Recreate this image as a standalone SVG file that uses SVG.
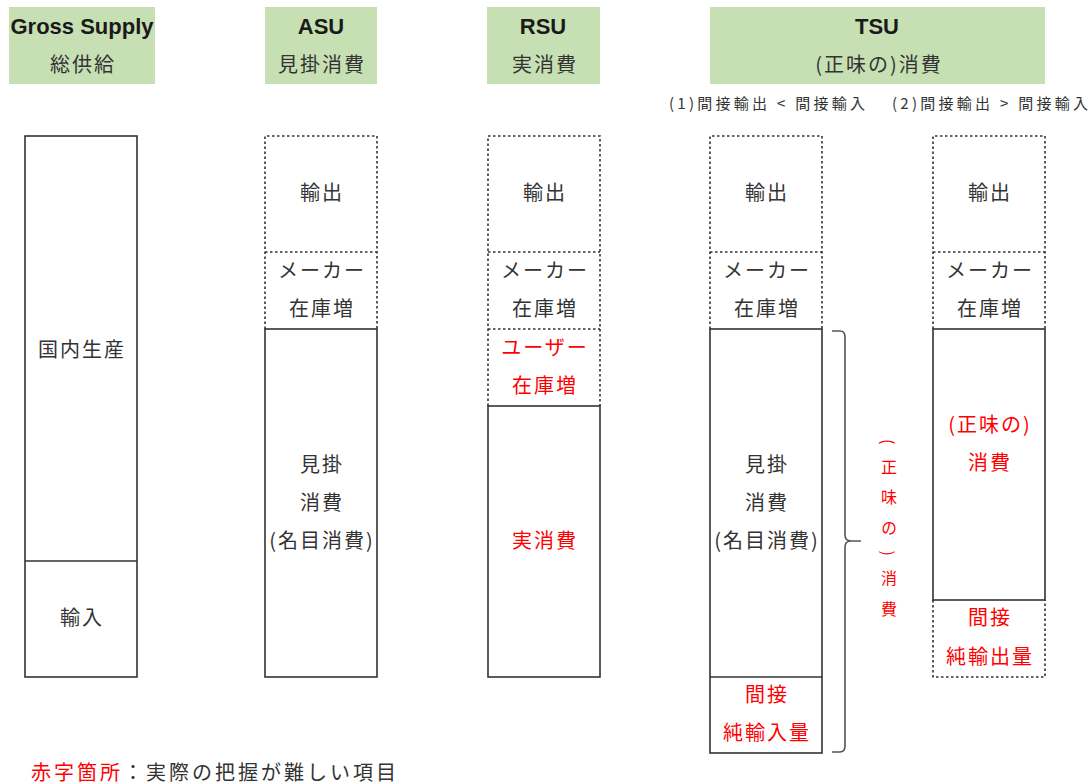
<svg xmlns="http://www.w3.org/2000/svg" width="1092" height="784" viewBox="0 0 1092 784">
<style>
.hdr{fill:#C6E0B4}
.ht{font-family:"Liberation Sans",Arial,sans-serif;font-weight:bold;font-size:22px;fill:#1a1a1a;text-anchor:middle}
.jp{font-family:"Noto Sans CJK JP","Noto Sans CJK SC",sans-serif;font-size:20px;letter-spacing:2px;fill:#333;text-anchor:middle}
.sub{font-family:"Noto Sans CJK JP","Noto Sans CJK SC",sans-serif;font-size:15px;fill:#333;text-anchor:middle}
.red{fill:#FF0000}
.solid{fill:none;stroke:#333;stroke-width:1.6}
.dot{fill:none;stroke:#333;stroke-width:1.6;stroke-dasharray:2.5 2.5}
.brace{fill:none;stroke:#555;stroke-width:1.6}
</style>
<rect width="1092" height="784" fill="#fff"/>

<g id="header-gross">
<rect class="hdr" x="9" y="7" width="146" height="77"/>
<text class="ht" x="82" y="34">Gross Supply</text>
<text class="jp" x="83" y="72">総供給</text>
</g>
<g id="header-asu">
<rect class="hdr" x="265" y="7" width="112" height="77"/>
<text class="ht" x="321" y="34">ASU</text>
<text class="jp" x="322" y="72">見掛消費</text>
</g>
<g id="header-rsu">
<rect class="hdr" x="487" y="7" width="113" height="77"/>
<text class="ht" x="543" y="34">RSU</text>
<text class="jp" x="545" y="72">実消費</text>
</g>
<g id="header-tsu">
<rect class="hdr" x="710" y="7" width="335" height="77"/>
<text class="ht" x="877" y="34">TSU</text>
<text class="jp" x="879" y="72">(正味の)消費</text>
<text class="sub" x="767" y="109" textLength="196" lengthAdjust="spacing">(1)間接輸出 &lt; 間接輸入</text>
<text class="sub" x="990" y="109" textLength="196" lengthAdjust="spacing">(2)間接輸出 &gt; 間接輸入</text>
</g>

<g id="col-gross">
<rect class="solid" x="25" y="136" width="112" height="541"/>
<line class="solid" x1="25" y1="561" x2="137" y2="561"/>
<text class="jp" x="82" y="357">国内生産</text>
<text class="jp" x="82" y="625">輸入</text>
</g>

<g id="col-asu">
<path class="dot" d="M265,329 V136 H377 V329 M265,252 H377"/>
<rect class="solid" x="265" y="329" width="112" height="348"/>
<text class="jp" x="322" y="200">輸出</text>
<text class="jp" x="322" y="278">メーカー</text>
<text class="jp" x="322" y="316">在庫増</text>
<text class="jp" x="322" y="472">見掛</text>
<text class="jp" x="322" y="510">消費</text>
<text class="jp" x="322" y="548">(名目消費)</text>
</g>

<g id="col-rsu">
<path class="dot" d="M488,406 V136 H600 V406 M488,252 H600 M488,329 H600"/>
<rect class="solid" x="488" y="406" width="112" height="271"/>
<text class="jp" x="545" y="200">輸出</text>
<text class="jp" x="545" y="278">メーカー</text>
<text class="jp" x="545" y="316">在庫増</text>
<text class="jp red" x="545" y="355">ユーザー</text>
<text class="jp red" x="545" y="393">在庫増</text>
<text class="jp red" x="545" y="548">実消費</text>
</g>

<g id="col-tsu1">
<path class="dot" d="M710,329 V136 H822 V329 M710,252 H822"/>
<rect class="solid" x="710" y="329" width="112" height="424"/>
<line class="solid" x1="710" y1="677" x2="822" y2="677"/>
<text class="jp" x="767" y="200">輸出</text>
<text class="jp" x="767" y="278">メーカー</text>
<text class="jp" x="767" y="316">在庫増</text>
<text class="jp" x="767" y="472">見掛</text>
<text class="jp" x="767" y="510">消費</text>
<text class="jp" x="767" y="548">(名目消費)</text>
<text class="jp red" x="767" y="702">間接</text>
<text class="jp red" x="767" y="740">純輸入量</text>
</g>

<g id="brace-tsu1">
<path class="brace" d="M832,331 H840 Q845,331 845,337 V535 Q845,541 851,541 H861 M851,541 Q845,541 845,547 V746 Q845,752 840,752 H832"/>
<text x="889" y="439" style="font-family:'Noto Sans CJK JP','Noto Sans CJK SC',sans-serif;fill:#FF0000;writing-mode:vertical-rl;font-size:16px;letter-spacing:14.5px">(正味の)消費</text>
</g>

<g id="col-tsu2">
<path class="dot" d="M933,329 V136 H1045 V329 M933,252 H1045"/>
<rect class="solid" x="933" y="329" width="112" height="271"/>
<path class="dot" d="M933,600 V677 H1045 V600"/>
<text class="jp" x="990" y="200">輸出</text>
<text class="jp" x="990" y="278">メーカー</text>
<text class="jp" x="990" y="316">在庫増</text>
<text class="jp red" x="990" y="432">(正味の)</text>
<text class="jp red" x="990" y="470">消費</text>
<text class="jp red" x="990" y="625">間接</text>
<text class="jp red" x="990" y="664">純輸出量</text>
</g>

<g id="legend">
<text class="jp" x="31" y="780" style="text-anchor:start;letter-spacing:3px"><tspan class="red">赤字箇所</tspan>：実際の把握が難しい項目</text>
</g>
</svg>
